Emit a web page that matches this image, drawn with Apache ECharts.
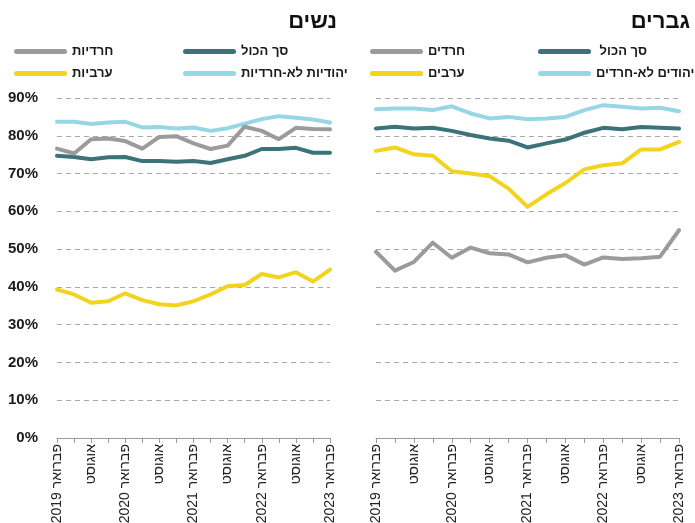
<!DOCTYPE html>
<html>
<head>
<meta charset="utf-8">
<script src="https://cdn.jsdelivr.net/npm/echarts@6/dist/echarts.min.js"></script>
<style>
  html, body { margin: 0; padding: 0; background: #fff; }
  #chart { width: 695px; height: 523px; direction: rtl; }
</style>
</head>
<body>
<div id="chart"></div>
<script>
// תוויות ציר הזמן - כל שלושה חודשים
const months = [
  'פברואר 2019', 'מאי', 'אוגוסט', 'נובמבר',
  'פברואר 2020', 'מאי', 'אוגוסט', 'נובמבר',
  'פברואר 2021', 'מאי', 'אוגוסט', 'נובמבר',
  'פברואר 2022', 'מאי', 'אוגוסט', 'נובמבר',
  'פברואר 2023'
]
const yTicks = [0, 10, 20, 30, 40, 50, 60, 70, 80, 90]

// נשים
const womenTotal = [74.7, 74.4, 73.8, 74.3, 74.4, 73.3, 73.3, 73.1, 73.3, 72.8, 73.8, 74.7, 76.5, 76.5, 76.8, 75.5, 75.5]
const womenHaredi = [76.6, 75.3, 79.1, 79.3, 78.6, 76.6, 79.7, 79.9, 78.0, 76.5, 77.4, 82.4, 81.3, 79.1, 82.1, 81.8, 81.7]
const womenJewish = [83.7, 83.7, 83.1, 83.5, 83.7, 82.2, 82.3, 81.9, 82.2, 81.3, 82.0, 83.2, 84.4, 85.2, 84.8, 84.3, 83.5]
const womenArab = [39.3, 38.0, 35.8, 36.2, 38.3, 36.5, 35.4, 35.1, 36.2, 38.0, 40.2, 40.5, 43.4, 42.5, 43.9, 41.4, 44.6]

// גברים
const menTotal = [81.9, 82.4, 81.9, 82.1, 81.3, 80.2, 79.3, 78.7, 76.9, 78.0, 79.0, 80.8, 82.1, 81.7, 82.3, 82.1, 81.9]
const menHaredi = [49.3, 44.3, 46.6, 51.7, 47.7, 50.4, 48.9, 48.6, 46.5, 47.7, 48.4, 45.9, 47.8, 47.4, 47.6, 48.0, 55.0]
const menJewish = [87.0, 87.2, 87.2, 86.8, 87.8, 85.9, 84.6, 85.0, 84.4, 84.6, 85.0, 86.8, 88.1, 87.7, 87.2, 87.4, 86.5]
const menArab = [76.0, 76.9, 75.1, 74.7, 70.6, 70.0, 69.3, 66.0, 61.2, 64.5, 67.5, 71.1, 72.2, 72.7, 76.4, 76.4, 78.4]

const colors = {
  total: '#3b7378',
  haredi: '#9b9b9d',
  jewish: '#97d6e4',
  arab: '#f2d41e'
}

const font = '"Liberation Sans", "DejaVu Sans", sans-serif'
const chart = echarts.init(document.getElementById('chart'))

const xAxisFor = (gridIndex) => ({
  type: 'category',
  gridIndex,
  data: months,
  boundaryGap: false,
  axisLine: { lineStyle: { color: '#9a9a9a', width: 1 } },
  axisTick: { show: true, interval: 0, length: 5, lineStyle: { color: '#9a9a9a' } },
  axisLabel: {
    interval: 1,
    rotate: 90,
    margin: 6,
    color: '#222',
    fontSize: 14,
    fontFamily: font
  }
})

const yAxisFor = (gridIndex, showLabels) => ({
  type: 'value',
  gridIndex,
  min: yTicks[0],
  max: yTicks[yTicks.length - 1],
  interval: 10,
  axisLine: { show: false },
  axisTick: { show: false },
  axisLabel: {
    show: showLabels,
    formatter: '{value}%',
    color: '#1a1a1a',
    fontSize: 15,
    fontWeight: 'bold',
    fontFamily: font,
    margin: 19
  },
  splitLine: {
    lineStyle: { color: '#a8a8a8', type: [5, 4], width: 1 }
  }
})

const lineSeries = (name, data, color, idx) => ({
  name,
  type: 'line',
  xAxisIndex: idx,
  yAxisIndex: idx,
  data,
  symbol: 'none',
  lineStyle: { color, width: 4, cap: 'round', join: 'round' },
  itemStyle: { color },
  emphasis: { disabled: true }
})

const legendIcon = 'path://M2.5,0H50.5A2.5,2.5,0,0,1,50.5,5H2.5A2.5,2.5,0,0,1,2.5,0Z'
const legendFor = (left, names) => ({
  left,
  top: 45,
  padding: 0,
  orient: 'vertical',
  data: names,
  icon: legendIcon,
  itemWidth: 53,
  itemHeight: 5,
  itemGap: 9,
  selectedMode: false,
  textStyle: { color: '#1a1a1a', fontSize: 13, fontWeight: 'bold', fontFamily: font }
})

const titleStyle = { fontSize: 22, fontWeight: 'bold', color: '#111', fontFamily: font }

chart.setOption({
  animation: false,
  title: [
    { text: 'נשים', right: 358, top: 11, padding: 0, textStyle: titleStyle },
    { text: 'גברים', right: 5, top: 11, padding: 0, textStyle: titleStyle }
  ],
  legend: [
    legendFor(14, ['חרדיות', 'ערביות']),
    legendFor(183, ['סך הכול', 'יהודיות לא-חרדיות']),
    legendFor(370, ['חרדים', 'ערבים']),
    legendFor(538, ['סך הכול ', 'יהודים לא-חרדים'])
  ],
  grid: [
    { left: 57, top: 98, width: 273, height: 340, outerBoundsMode: 'none' },
    { left: 376, top: 98, width: 303, height: 340, outerBoundsMode: 'none' }
  ],
  xAxis: [xAxisFor(0), xAxisFor(1)],
  yAxis: [yAxisFor(0, true), yAxisFor(1, false)],
  series: [
    lineSeries('יהודיות לא-חרדיות', womenJewish, colors.jewish, 0),
    lineSeries('סך הכול', womenTotal, colors.total, 0),
    lineSeries('ערביות', womenArab, colors.arab, 0),
    lineSeries('חרדיות', womenHaredi, colors.haredi, 0),
    lineSeries('יהודים לא-חרדים', menJewish, colors.jewish, 1),
    lineSeries('סך הכול ', menTotal, colors.total, 1),
    lineSeries('ערבים', menArab, colors.arab, 1),
    lineSeries('חרדים', menHaredi, colors.haredi, 1)
  ]
})
</script>
</body>
</html>
